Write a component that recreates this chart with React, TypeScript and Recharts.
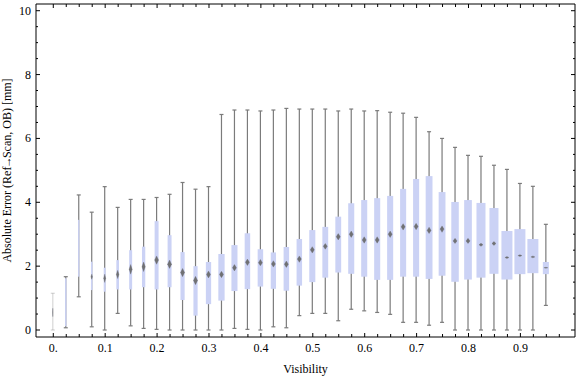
import React from 'react';
import { ComposedChart, Bar, XAxis, YAxis, Label } from 'recharts';

// ---------- data ----------
const visibility = [
  0, 0.025, 0.05, 0.075, 0.1, 0.125, 0.15, 0.175, 0.2, 0.225,
  0.25, 0.275, 0.3, 0.325, 0.35, 0.375, 0.4, 0.425, 0.45, 0.475,
  0.5, 0.525, 0.55, 0.575, 0.6, 0.625, 0.65, 0.675, 0.7, 0.725,
  0.75, 0.775, 0.8, 0.825, 0.85, 0.875, 0.9, 0.925, 0.95,
];
const lowerWhisker = [
  0, 0.07, 1.04, 0.1, 0, 0.52, 0.13, 0.05, 0.02, 0,
  0, 0, 0, 0, 0.05, 0.02, 0, 0.1, 0.07, 0.45,
  0.52, 0.52, 0.29, 0.65, 0.6, 0.55, 0.49, 0.24, 0.24, 0.15,
  0.24, 0, 0, 0, 0, 0, 0, 0, 0.77,
];
const lowerQuartile = [
  0.42, 0.12, 1.67, 1.25, 1.2, 1.27, 1.27, 1.34, 1.27, 1.34,
  0.94, 0.45, 0.81, 0.92, 1.22, 1.28, 1.36, 1.29, 1.23, 1.39,
  1.5, 1.64, 1.8, 1.76, 1.67, 1.57, 1.57, 1.67, 1.67, 1.6,
  1.7, 1.51, 1.58, 1.64, 1.76, 1.58, 1.75, 1.78, 1.75,
];
const medianValue = [
  0.55, 0.9, 2.56, 1.67, 1.62, 1.74, 1.9, 1.98, 2.19, 2.06,
  1.8, 1.55, 1.74, 1.74, 1.95, 2.12, 2.11, 2.07, 2.06, 2.22,
  2.51, 2.62, 2.92, 3.0, 2.82, 2.82, 3.0, 3.23, 3.24, 3.12,
  3.16, 2.79, 2.79, 2.67, 2.71, 2.27, 2.33, 2.29, 1.95,
];
const upperQuartile = [
  0.68, 1.62, 3.45, 2.14, 1.95, 2.19, 2.5, 2.61, 3.41, 2.97,
  2.44, 2.0, 2.13, 2.38, 2.66, 3.03, 2.53, 2.43, 2.6, 2.85,
  3.13, 3.23, 3.55, 3.97, 4.07, 4.13, 4.2, 4.42, 4.73, 4.82,
  4.32, 4.01, 4.07, 3.98, 3.82, 3.1, 3.16, 2.85, 2.13,
];
const upperWhisker = [
  1.15, 1.67, 4.23, 3.69, 4.49, 3.84, 4.09, 4.09, 4.15, 4.25,
  4.62, 4.41, 4.49, 6.75, 6.89, 6.89, 6.86, 6.89, 6.94, 6.92,
  6.92, 6.92, 6.86, 6.92, 6.86, 6.87, 6.82, 6.79, 6.66, 6.21,
  6.0, 5.72, 5.47, 5.44, 5.16, 5.03, 4.59, 4.5, 3.31,
];
// half-height of the median marker (median uncertainty), in mm
const medianSpread = [
  0.13, 0, 0, 0.08, 0.13, 0.13, 0.15, 0.15, 0.13, 0.13,
  0.13, 0.13, 0.11, 0.1, 0.1, 0.1, 0.1, 0.1, 0.1, 0.1,
  0.1, 0.09, 0.1, 0.1, 0.1, 0.1, 0.1, 0.1, 0.1, 0.1,
  0.1, 0.08, 0.08, 0.05, 0.06, 0.03, 0.03, 0.03, 0.015,
];
// relative box weight (box width relative to the widest box)
const boxWeight = [
  0.03, 0.13, 0.12, 0.14, 0.18, 0.24, 0.27, 0.3, 0.36, 0.36,
  0.38, 0.38, 0.48, 0.57, 0.55, 0.5, 0.5, 0.48, 0.5, 0.5,
  0.55, 0.53, 0.53, 0.55, 0.55, 0.55, 0.55, 0.55, 0.55, 0.62,
  0.62, 0.68, 0.7, 0.82, 0.82, 1, 1, 1, 0.55,
];

const xMajorTicks = [0, 0.1, 0.2, 0.3, 0.4, 0.5, 0.6, 0.7, 0.8, 0.9];
const xTickLabels = ['0.', '0.1', '0.2', '0.3', '0.4', '0.5', '0.6', '0.7', '0.8', '0.9'];
const yMajorTicks = [0, 2, 4, 6, 8, 10];
const yTickLabels = ['0', '2', '4', '6', '8', '10'];

const xTitle = 'Visibility';
const yTitleParts = ['Absolute Error (Ref', '\u2192', 'Scan, OB) [mm]'];

// ---------- styling ----------
const FONT = '"Liberation Serif", "Times New Roman", "DejaVu Serif", serif';
const MAX_BOX_W = 11;
const BOX_FILL = '#cbd2f5';
const WHISKER = '#7b7b7b';
const MEDIAN_FILL = '#666666';
const X_DOMAIN: [number, number] = [-0.0333, 1.0052];
const Y_DOMAIN: [number, number] = [-0.219, 10.21];

const xAllTicks = Array.from({ length: 40 }, (_, i) => Math.round(i * 25) / 1000);
const yAllTicks = Array.from({ length: 21 }, (_, i) => i * 0.5);

const rows = visibility.map((x, i) => ({
  x,
  range: [lowerWhisker[i], upperWhisker[i]],
  low: lowerWhisker[i],
  q1: lowerQuartile[i],
  med: medianValue[i],
  q3: upperQuartile[i],
  high: upperWhisker[i],
  spread: medianSpread[i],
  weight: boxWeight[i],
}));

const majorIndex = (arr: number[], v: number) => arr.findIndex((t) => Math.abs(t - v) < 1e-6);

const BottomTick = (p: any) => {
  const { x, y, payload } = p;
  const k = majorIndex(xMajorTicks, payload.value);
  return (
    <g>
      <line x1={x} x2={x} y1={y} y2={y - (k >= 0 ? 4 : 3)} stroke="#000" strokeWidth={1} />
      {k >= 0 && (
        <text x={x} y={y + 15} textAnchor="middle" fontFamily={FONT} fontSize={12} fill="#000">
          {xTickLabels[k]}
        </text>
      )}
    </g>
  );
};

const TopTick = (p: any) => {
  const { x, y, payload } = p;
  const k = majorIndex(xMajorTicks, payload.value);
  return <line x1={x} x2={x} y1={y} y2={y + (k >= 0 ? 4 : 3)} stroke="#000" strokeWidth={1} />;
};

const LeftTick = (p: any) => {
  const { x, y, payload } = p;
  const k = majorIndex(yMajorTicks, payload.value);
  return (
    <g>
      <line x1={x} x2={x + (k >= 0 ? 4 : 2)} y1={y} y2={y} stroke="#000" strokeWidth={1} />
      {k >= 0 && (
        <text x={x - 5} y={y + 4} textAnchor="end" fontFamily={FONT} fontSize={12} fill="#000">
          {yTickLabels[k]}
        </text>
      )}
    </g>
  );
};

const RightTick = (p: any) => {
  const { x, y, payload } = p;
  const k = majorIndex(yMajorTicks, payload.value);
  return <line x1={x} x2={x - (k >= 0 ? 4 : 2)} y1={y} y2={y} stroke="#000" strokeWidth={1} />;
};

const XTitle = (p: any) => {
  const vb = p.viewBox || {};
  return (
    <text x={vb.x + vb.width / 2} y={vb.y + 36} textAnchor="middle" fontFamily={FONT} fontSize={12} fill="#000">
      {xTitle}
    </text>
  );
};

const YTitle = (p: any) => {
  const vb = p.viewBox || {};
  const cx = vb.x + 11;
  const cy = vb.y + vb.height / 2;
  return (
    <text x={cx} y={cy} textAnchor="middle" transform={`rotate(-90, ${cx}, ${cy})`} fontFamily={FONT} fontSize={12} fill="#000">
      <tspan>{yTitleParts[0]}</tspan>
      <tspan fontSize={11.5} dx={-1.5}>{yTitleParts[1]}</tspan>
      <tspan dx={-1.5}>{yTitleParts[2]}</tspan>
    </text>
  );
};

const BoxShape = (props: any) => {
  const { x, y, width, height, payload } = props;
  if (!payload || x == null || y == null) return <g />;
  const yTop = Math.min(y, y + height);
  const yBot = Math.max(y, y + height);
  const lo = payload.low;
  const hi = payload.high;
  const toPx = (v: number) => yBot - ((v - lo) / (hi - lo)) * (yBot - yTop);
  const cx = x + width / 2;
  const bw = payload.weight * MAX_BOX_W;
  const alpha = Math.min(1, payload.weight * 10);
  const yq1 = toPx(payload.q1);
  const yq3 = toPx(payload.q3);
  const ym = toPx(payload.med);
  const mw = Math.min(bw, 4) / 2;
  const mTop = toPx(payload.med + payload.spread);
  const mBot = toPx(payload.med - payload.spread);
  return (
    <g>
      <line x1={cx} x2={cx} y1={yTop} y2={yBot} stroke={WHISKER} strokeWidth={1.2} strokeOpacity={alpha} />
      <line x1={cx - 2} x2={cx + 2} y1={yTop} y2={yTop} stroke={WHISKER} strokeWidth={1.2} strokeOpacity={alpha} />
      <line x1={cx - 2} x2={cx + 2} y1={yBot} y2={yBot} stroke={WHISKER} strokeWidth={1.2} strokeOpacity={alpha} />
      <rect x={cx - bw / 2} y={yq3} width={bw} height={Math.max(0, yq1 - yq3)} fill={BOX_FILL} />
      {payload.spread > 0 && (
        <polygon
          points={`${cx},${mTop} ${cx + mw},${ym} ${cx},${mBot} ${cx - mw},${ym}`}
          fill={MEDIAN_FILL}
          stroke={MEDIAN_FILL}
          strokeWidth={0.6}
          strokeOpacity={0.5}
          fillOpacity={0.9}
        />
      )}
    </g>
  );
};

export default function App() {
  return (
    <div style={{ position: 'absolute', left: 0, top: 0, width: 576, height: 377, background: '#fff' }}>
      <ComposedChart width={576} height={377} data={rows} margin={{ top: 3, right: 0, bottom: 0, left: 0 }}>
        <XAxis
          xAxisId="b"
          type="number"
          dataKey="x"
          domain={X_DOMAIN}
          allowDataOverflow
          ticks={xAllTicks}
          interval={0}
          tick={BottomTick}
          tickLine={false}
          tickSize={0}
          tickMargin={0}
          height={40}
          axisLine={{ stroke: '#000', strokeWidth: 1 }}
        >
          <Label content={XTitle} />
        </XAxis>
        <XAxis
          xAxisId="t"
          orientation="top"
          type="number"
          dataKey="x"
          domain={X_DOMAIN}
          allowDataOverflow
          ticks={xAllTicks}
          interval={0}
          tick={TopTick}
          tickLine={false}
          tickSize={0}
          tickMargin={0}
          height={1}
          axisLine={{ stroke: '#000', strokeWidth: 1 }}
        />
        <YAxis
          yAxisId="l"
          type="number"
          domain={Y_DOMAIN}
          allowDataOverflow
          ticks={yAllTicks}
          interval={0}
          tick={LeftTick}
          tickLine={false}
          tickSize={0}
          tickMargin={0}
          width={36}
          axisLine={{ stroke: '#000', strokeWidth: 1 }}
        >
          <Label content={YTitle} />
        </YAxis>
        <YAxis
          yAxisId="r"
          orientation="right"
          type="number"
          domain={Y_DOMAIN}
          allowDataOverflow
          ticks={yAllTicks}
          interval={0}
          tick={RightTick}
          tickLine={false}
          tickSize={0}
          tickMargin={0}
          width={1}
          axisLine={{ stroke: '#000', strokeWidth: 1 }}
        />
        <Bar
          xAxisId="b"
          yAxisId="l"
          dataKey="range"
          barSize={12}
          shape={BoxShape}
          isAnimationActive={false}
        />
      </ComposedChart>
    </div>
  );
}
